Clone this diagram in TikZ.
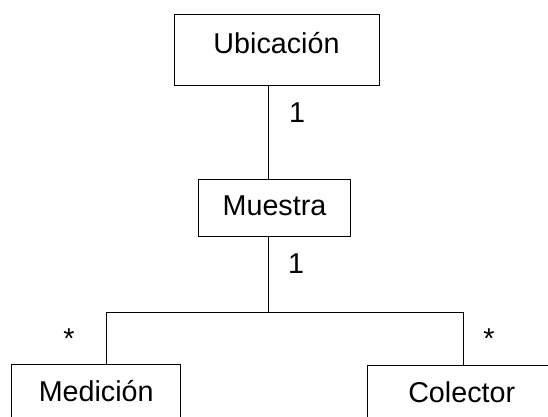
\documentclass[tikz,border=0pt]{standalone}
\usepackage{fontspec}
\setmainfont{Liberation Sans}
\usepackage{tikz}
\usetikzlibrary{positioning}

\begin{document}
\begin{tikzpicture}[x=1pt, y=-1pt, line width=1pt,
  every node/.style={font=\fontsize{28.7}{34}\selectfont},
  clase/.style={draw, inner sep=0pt, text height=21pt, text depth=5pt},
  mult/.style={anchor=base}]
\useasboundingbox (0,0) rectangle (548,416);
\clip (0,0) rectangle (548,416);

\node[clase, minimum width=205, minimum height=71, text depth=14pt] (ubicacion) at (276.5,49.5){Ubicación};
\node[clase, minimum width=152, minimum height=57] (muestra) at (274.5,207.7){Muestra};
\node[clase, minimum width=169, minimum height=59] (medicion) at (96.2,393.7){Medición};
\node[clase, minimum width=189, minimum height=58] (colector) at (461.7,394.7){Colector};

\coordinate (spine) at (268.3,312.7);
\coordinate (jl) at (106.7,312.7);
\coordinate (jr) at (463.3,312.7);

\draw (ubicacion.south -| spine)--(muestra.north -| spine);
\draw (muestra.south -| spine)--(spine);
\draw (medicion.north -| jl)--(jl)--(jr)--(colector.north -| jr);

% multiplicidades
\node[mult] (m_ubic) at (297,122){1};
\node[mult] (m_muestra) at (296,273.3){1};
\node[mult] (m_medicion) at (69,348.5){*};
\node[mult] (m_colector) at (489,348.5){*};
\end{tikzpicture}
\end{document}
